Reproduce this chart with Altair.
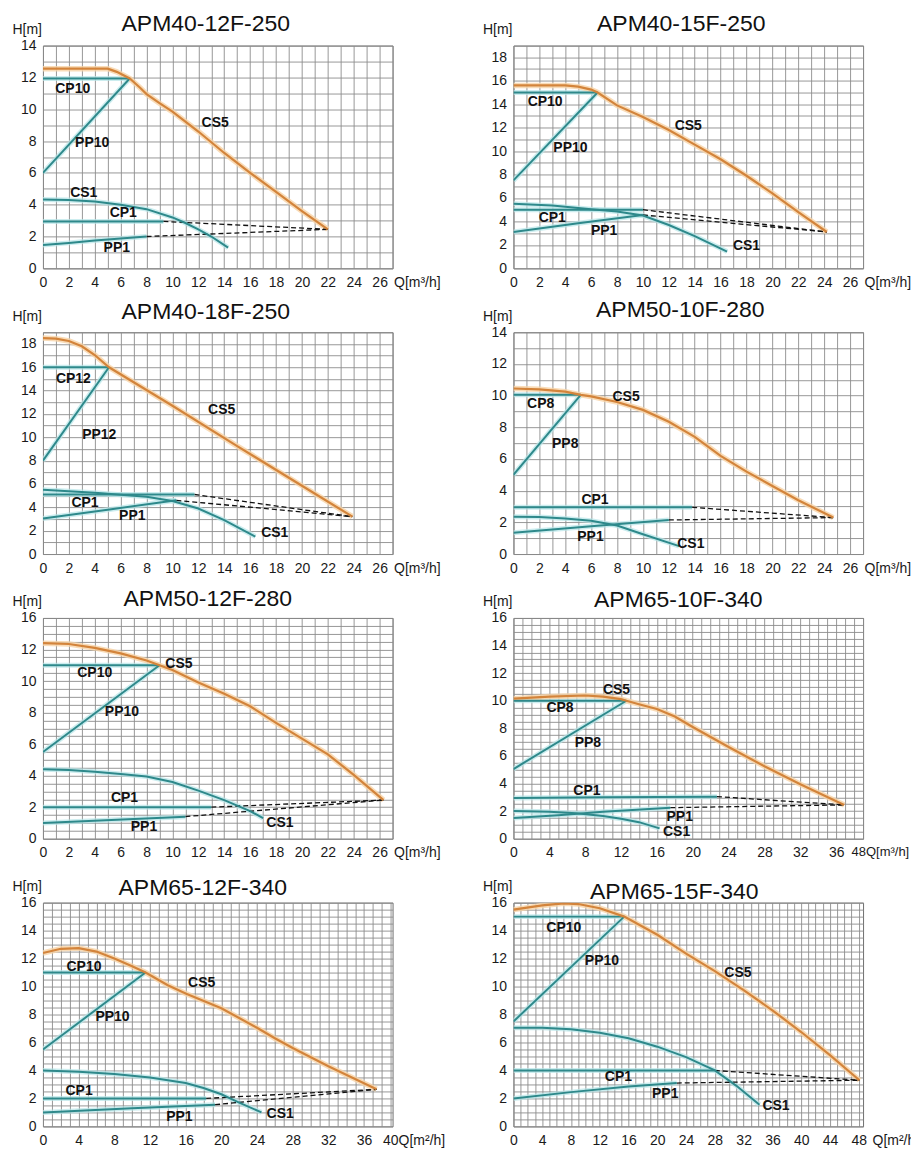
import altair as alt
import pandas as pd

TITLES = ["APM40-12F-250", "APM40-15F-250", "APM40-18F-250", "APM50-10F-280",
          "APM50-12F-280", "APM65-10F-340", "APM65-12F-340", "APM65-15F-340"]

# ---------------- APM40-12F-250 ----------------
A1_CS5_Q = [0, 5, 5.7, 6.7, 7.5, 8, 9, 10, 12, 14, 16, 18, 20, 22]
A1_CS5_H = [12.55, 12.55, 12.35, 11.93, 11.35, 10.95, 10.38, 9.85, 8.6, 7.25, 6.0, 4.8, 3.6, 2.45]
A1_CPH_Q = [0, 6.7]
A1_CPH_H = [11.93, 11.93]
A1_PPH_Q = [0, 6.7]
A1_PPH_H = [6.0, 11.93]
A1_CS1_Q = [0, 2, 4, 6, 8, 10, 11, 12, 13, 14.3]
A1_CS1_H = [4.33, 4.3, 4.2, 4.0, 3.72, 3.2, 2.85, 2.45, 2.0, 1.3]
A1_CP1_Q = [0, 9.3]
A1_CP1_H = [2.95, 2.95]
A1_PP1_Q = [0, 2, 4, 6, 8]
A1_PP1_H = [1.47, 1.6, 1.75, 1.88, 2.0]
A1_LBL = ["CP10", "PP10", "CS5", "CS1", "CP1", "PP1"]
A1_LBL_Q = [2.3, 3.8, 13.3, 3.15, 6.2, 5.7]
A1_LBL_H = [11.24, 7.85, 9.15, 4.75, 3.45, 1.3]

# ---------------- APM40-15F-250 ----------------
A2_CS5_Q = [0, 4, 5, 6, 6.5, 8, 10, 12, 14, 16, 18, 20, 22, 24.2]
A2_CS5_H = [15.6, 15.6, 15.5, 15.25, 15.0, 13.9, 12.9, 11.8, 10.55, 9.3, 7.9, 6.4, 4.8, 3.1]
A2_CPH_Q = [0, 6.5]
A2_CPH_H = [15.0, 15.0]
A2_PPH_Q = [0, 6.5]
A2_PPH_H = [7.5, 15.0]
A2_CS1_Q = [0, 3, 6, 8, 10, 12, 14, 16.5]
A2_CS1_H = [5.5, 5.35, 5.05, 4.85, 4.5, 3.7, 2.75, 1.43]
A2_CP1_Q = [0, 10]
A2_CP1_H = [5.0, 5.0]
A2_PP1_Q = [0, 5, 10]
A2_PP1_H = [3.1, 3.85, 4.55]
A2_LBL = ["CP10", "PP10", "CS5", "CP1", "PP1", "CS1"]
A2_LBL_Q = [2.45, 4.4, 13.5, 3.0, 7.0, 18.0]
A2_LBL_H = [14.2, 10.3, 12.1, 4.3, 3.2, 1.9]

# ---------------- APM40-18F-250 ----------------
A3_CS5_Q = [0, 1, 2, 3, 4, 5.1, 10, 15, 20, 23.9]
A3_CS5_H = [18.5, 18.45, 18.25, 17.8, 17.05, 16.0, 12.7, 9.25, 5.85, 3.2]
A3_CPH_Q = [0, 5.1]
A3_CPH_H = [16.0, 16.0]
A3_PPH_Q = [0, 5.1]
A3_PPH_H = [8.0, 16.0]
A3_CS1_Q = [0, 4, 8, 10, 12, 14, 16.4]
A3_CS1_H = [5.5, 5.25, 4.9, 4.55, 3.9, 2.9, 1.5]
A3_CP1_Q = [0, 11.7]
A3_CP1_H = [5.1, 5.1]
A3_PP1_Q = [0, 5, 10.3]
A3_PP1_H = [3.05, 3.8, 4.6]
A3_LBL = ["CP12", "PP12", "CS5", "CP1", "PP1", "CS1"]
A3_LBL_Q = [2.35, 4.35, 13.8, 3.25, 6.9, 17.9]
A3_LBL_H = [15.0, 10.2, 12.3, 4.35, 3.25, 1.8]

# ---------------- APM50-10F-280 ----------------
A4_CS5_Q = [0, 2, 4, 5.2, 6, 8, 10, 12, 14, 16, 18, 20, 22, 24.7]
A4_CS5_H = [10.45, 10.4, 10.25, 10.05, 9.95, 9.6, 9.1, 8.35, 7.4, 6.2, 5.2, 4.3, 3.4, 2.3]
A4_CPH_Q = [0, 5.2]
A4_CPH_H = [10.05, 10.05]
A4_PPH_Q = [0, 5.2]
A4_PPH_H = [5.0, 10.05]
A4_CS1_Q = [0, 2, 4, 6, 8, 10, 12.8]
A4_CS1_H = [2.35, 2.33, 2.25, 2.1, 1.8, 1.25, 0.5]
A4_CP1_Q = [0, 13.8]
A4_CP1_H = [2.95, 2.95]
A4_PP1_Q = [0, 6, 12]
A4_PP1_H = [1.35, 1.75, 2.15]
A4_LBL = ["CP8", "PP8", "CS5", "CP1", "PP1", "CS1"]
A4_LBL_Q = [2.1, 4.0, 8.7, 6.3, 5.95, 13.7]
A4_LBL_H = [9.45, 6.95, 9.9, 3.4, 1.05, 0.65]

# ---------------- APM50-12F-280 ----------------
A5_CS5_Q = [0, 2, 4, 6, 8, 9, 10, 12, 14, 16, 18, 20, 22, 24, 26.3]
A5_CS5_H = [12.4, 12.35, 12.1, 11.75, 11.3, 11.0, 10.7, 9.9, 9.2, 8.4, 7.35, 6.35, 5.35, 4.05, 2.45]
A5_CPH_Q = [0, 9]
A5_CPH_H = [11.0, 11.0]
A5_PPH_Q = [0, 9]
A5_PPH_H = [5.5, 11.0]
A5_CS1_Q = [0, 2, 4, 6, 8, 10, 12, 14, 16, 17]
A5_CS1_H = [4.4, 4.35, 4.25, 4.1, 3.95, 3.6, 3.05, 2.45, 1.75, 1.3]
A5_CP1_Q = [0, 13]
A5_CP1_H = [2.0, 2.0]
A5_PP1_Q = [0, 11]
A5_PP1_H = [1.0, 1.4]
A5_LBL = ["CP10", "CS5", "PP10", "CP1", "PP1", "CS1"]
A5_LBL_Q = [4.0, 10.5, 6.1, 6.3, 7.8, 18.3]
A5_LBL_H = [10.5, 11.05, 8.05, 2.6, 0.75, 1.0]

# ---------------- APM65-10F-340 ----------------
A6_CS5_Q = [0, 4, 8, 10, 12, 12.6, 14, 16, 18, 20, 24, 28, 32, 36.9]
A6_CS5_H = [10.15, 10.3, 10.38, 10.3, 10.12, 10.0, 9.75, 9.4, 8.85, 8.1, 6.65, 5.25, 3.95, 2.45]
A6_CPH_Q = [0, 12.6]
A6_CPH_H = [10.0, 10.0]
A6_PPH_Q = [0, 12.6]
A6_PPH_H = [5.05, 10.0]
A6_CS1_Q = [0, 4, 7, 10, 12, 14, 16.3]
A6_CS1_H = [2.0, 1.95, 1.85, 1.65, 1.45, 1.2, 0.75]
A6_CP1_Q = [0, 10, 22.7]
A6_CP1_H = [2.95, 3.0, 3.05]
A6_PP1_Q = [0, 5, 10, 17.5]
A6_PP1_H = [1.5, 1.7, 1.95, 2.25]
A6_LBL = ["CS5", "CP8", "PP8", "CP1", "PP1", "CS1"]
A6_LBL_Q = [11.5, 5.2, 8.3, 8.2, 18.55, 18.2]
A6_LBL_H = [10.8, 9.45, 6.95, 3.45, 1.55, 0.45]

# ---------------- APM65-12F-340 ----------------
A7_CS5_Q = [0, 2, 4, 6, 8, 10, 11.5, 14, 16, 20, 24, 26, 28, 32, 37.4]
A7_CS5_H = [12.4, 12.7, 12.75, 12.5, 12.0, 11.45, 11.0, 10.1, 9.5, 8.45, 7.05, 6.3, 5.6, 4.3, 2.65]
A7_CPH_Q = [0, 11.5]
A7_CPH_H = [11.0, 11.0]
A7_PPH_Q = [0, 11.5]
A7_PPH_H = [5.5, 11.0]
A7_CS1_Q = [0, 4, 8, 12, 16, 18, 20, 22, 24.5]
A7_CS1_H = [4.0, 3.9, 3.75, 3.5, 3.1, 2.75, 2.3, 1.7, 1.0]
A7_CP1_Q = [0, 18.3]
A7_CP1_H = [2.0, 2.0]
A7_PP1_Q = [0, 10, 19.3]
A7_PP1_H = [1.0, 1.3, 1.55]
A7_LBL = ["CP10", "CS5", "PP10", "CP1", "PP1", "CS1"]
A7_LBL_Q = [4.6, 17.8, 7.8, 4.05, 15.3, 26.6]
A7_LBL_H = [11.4, 10.25, 7.85, 2.55, 0.65, 0.9]

# ---------------- APM65-15F-340 ----------------
A8_CS5_Q = [0, 4, 7, 9, 12, 15.4, 20, 24, 28, 32, 36, 40, 44, 48.1]
A8_CS5_H = [15.5, 15.8, 15.95, 15.9, 15.6, 15.0, 13.7, 12.35, 11.1, 9.75, 8.3, 6.75, 5.1, 3.3]
A8_CPH_Q = [0, 15.4]
A8_CPH_H = [15.0, 15.0]
A8_PPH_Q = [0, 15.4]
A8_PPH_H = [7.5, 15.0]
A8_CS1_Q = [0, 4, 8, 12, 16, 20, 24, 28, 31, 34.2]
A8_CS1_H = [7.05, 7.05, 6.95, 6.7, 6.3, 5.7, 4.95, 4.0, 2.9, 1.55]
A8_CP1_Q = [0, 28]
A8_CP1_H = [4.0, 4.0]
A8_PP1_Q = [0, 8, 16, 22.7]
A8_PP1_H = [2.0, 2.45, 2.85, 3.1]
A8_LBL = ["CP10", "PP10", "CS5", "CP1", "PP1", "CS1"]
A8_LBL_Q = [7.0, 12.3, 31.2, 14.6, 21.1, 36.5]
A8_LBL_H = [14.2, 11.85, 10.95, 3.5, 2.35, 1.45]

# axis set-up per panel: (x max, x label step, y max, y grid step, x title)
X_MAX = [27, 27, 27, 27, 27, 39, 39.2, 48.6]
X_STEP = [2, 2, 2, 2, 2, 4, 4, 4]
Y_MAX = [14, 19, 19, 14, 14, 16, 16, 16]
Y_GRID = [1, 1, 1, 1, 0.5, 0.5, 0.5, 0.5]
X_TITLE = ["Q[m³/h]"] * 5 + ["48Q[m³/h]", "40Q[m²/h]", "Q[m²/h]"]

W, GAP_COL, GAP_ROW = 350, 121, 64
HEIGHTS = [223, 223, 222, 222, 221, 221, 224, 224]
TITLE_DX = [-12, -7, -12, -8, -10, -10, -15, -14]
TITLE_DY = [31, 31, 33, 31, 34, 35, 38, 42]
X_TITLE_X = [W + 1] * 5 + [W - 12, W - 10, W + 9]
X_TITLE_SIZE = [14, 14, 14, 14, 14, 13, 14, 14]

TEAL = "#2e898b"
ORANGE = "#d3843b"
FONT = "Liberation Sans"

G = globals()


def rows(name, kind, qs, hs):
    return [dict(Q=q, H=h, s=name, k=kind, o=i) for i, (q, h) in enumerate(zip(qs, hs))]


def panel(i):
    p = f"A{i + 1}_"
    g = lambda n: G[p + n]
    data = []
    data += rows("CS5", "orange", g("CS5_Q"), g("CS5_H"))
    data += rows("CPH", "teal", g("CPH_Q"), g("CPH_H"))
    data += rows("PPH", "teal", g("PPH_Q"), g("PPH_H"))
    data += rows("CS1", "teal", g("CS1_Q"), g("CS1_H"))
    data += rows("CP1", "teal", g("CP1_Q"), g("CP1_H"))
    data += rows("PP1", "teal", g("PP1_Q"), g("PP1_H"))
    endq, endh = g("CS5_Q")[-1], g("CS5_H")[-1]
    data += rows("dCP", "dash", [g("CP1_Q")[-1], endq], [g("CP1_H")[-1], endh])
    data += rows("dPP", "dash", [g("PP1_Q")[-1], endq], [g("PP1_H")[-1], endh])
    df = pd.DataFrame(data)
    lbl = pd.DataFrame({"Q": g("LBL_Q"), "H": g("LBL_H"), "t": g("LBL")})

    xmax, ymax = X_MAX[i], Y_MAX[i]
    xvals = list(range(0, int(xmax) + 1))
    step = Y_GRID[i]
    yvals = [k * step for k in range(int(round(ymax / step)) + 1)]
    xs = X_STEP[i]
    ylab = "datum.value % 2 == 0 ? format(datum.value, 'd') : ''"
    if i == 4:
        ylab = "datum.value == 14 ? '16' : (datum.value % 2 == 0 ? format(datum.value, 'd') : '')"
    xlab = (f"datum.value % {xs} == 0 && datum.value <= {26 if xs == 2 else 48} "
            "? format(datum.value, 'd') : ''")

    common = dict(grid=True, gridColor="#8c8c8c", gridWidth=0.9, gridOpacity=1,
                  ticks=False, domain=False, labelFont=FONT, labelFontSize=14,
                  labelColor="#1a1a1a", labelPadding=7, titleFont=FONT,
                  titleFontWeight="normal", titleColor="#1a1a1a")
    x = alt.X("Q:Q", scale=alt.Scale(domain=[0, xmax], nice=False, zero=True),
              axis=alt.Axis(values=xvals, labelExpr=xlab, title=X_TITLE[i],
                            titleX=X_TITLE_X[i], titleY=7, titleAlign="left",
                            titleBaseline="top", titleAngle=0, labelFlush=False,
                            titleFontSize=X_TITLE_SIZE[i],
                            labelOverlap=False, **common))
    y = alt.Y("H:Q", scale=alt.Scale(domain=[0, ymax], nice=False, zero=True),
              axis=alt.Axis(values=yvals, labelExpr=ylab, title="H[m]",
                            titleX=-31, titleY=-12, titleAlign="left",
                            titleBaseline="alphabetic", titleAngle=0,
                            titleFontSize=14,
                            labelOverlap=False, labelFlush=False, **common))

    base = alt.Chart(df).encode(x=x, y=y, detail="s:N", order="o:Q")
    halo_t = base.transform_filter("datum.k == 'teal'").mark_line(
        color="#b6e6e8", strokeWidth=5, opacity=0.7, clip=True)
    halo_o = base.transform_filter("datum.k == 'orange'").mark_line(
        color="#f7d3a6", strokeWidth=5.5, opacity=0.8, clip=True)
    dash = base.transform_filter("datum.k == 'dash'").mark_line(
        color="#111111", strokeWidth=1.3, strokeDash=[5, 3], clip=True)
    teal = base.transform_filter("datum.k == 'teal'").mark_line(
        color=TEAL, strokeWidth=2, clip=True)
    orange = base.transform_filter("datum.k == 'orange'").mark_line(
        color=ORANGE, strokeWidth=2.2, clip=True)
    text = alt.Chart(lbl).mark_text(font=FONT, fontSize=14, fontWeight="bold",
                                    color="#111111", align="center",
                                    baseline="middle").encode(x=x, y=y, text="t:N")
    return alt.layer(halo_t, halo_o, dash, teal, orange, text).properties(
        width=W, height=HEIGHTS[i],
        title=alt.TitleParams(TITLES[i], anchor="middle", frame="group",
                              dx=TITLE_DX[i], dy=TITLE_DY[i], offset=0,
                              baseline="alphabetic", fontSize=23, font=FONT,
                              fontWeight="normal", color="#111111"))


chart = alt.concat(*[panel(i) for i in range(8)], columns=2,
                   spacing={"row": GAP_ROW, "column": GAP_COL},
                   bounds="flush").properties(
    padding={"left": 3, "top": 3, "right": -9, "bottom": 0}
).configure_view(stroke="#6e6e6e", strokeWidth=1)

chart.save("out.html", embed_options={"renderer": "svg", "actions": False})
